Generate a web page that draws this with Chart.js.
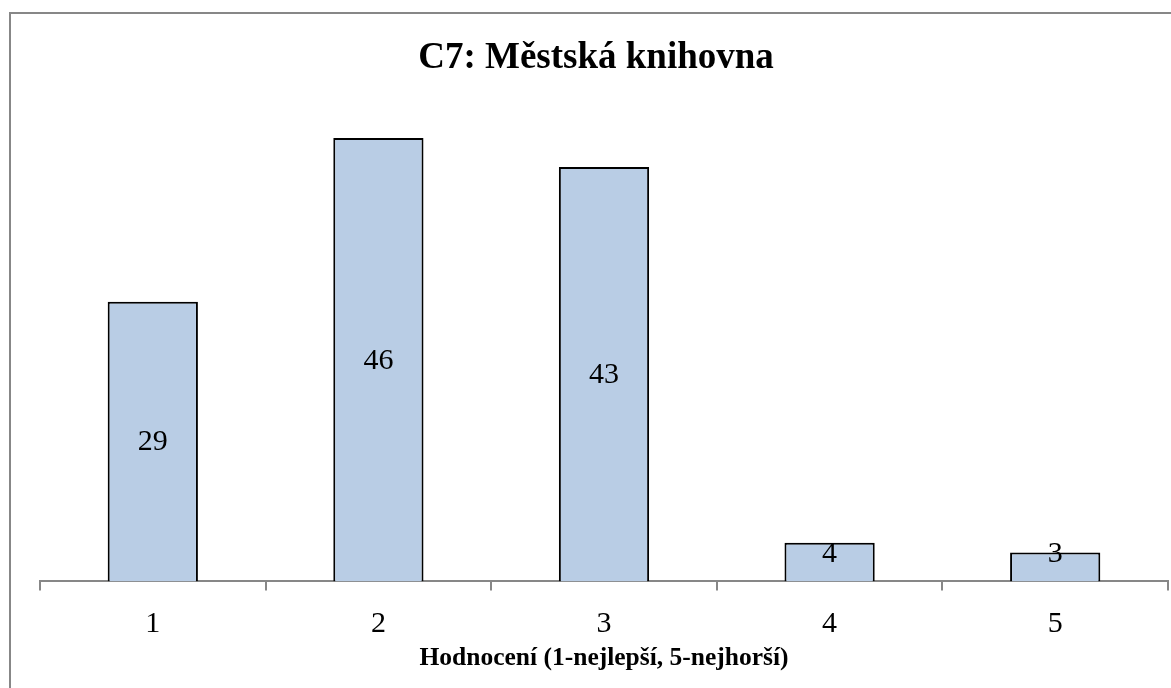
<!DOCTYPE html>
<html lang="cs">
<head>
    <meta charset="UTF-8">
    <title>C7: Městská knihovna</title>
    <script src="https://cdn.jsdelivr.net/npm/chart.js"></script>
    <style>
        body {
            margin: 0;
            background: #ffffff;
        }
        #wrap {
            position: relative;
            width: 1171px;
            height: 688px;
            overflow: hidden;
        }
        #frame {
            position: absolute;
            left: 9px;
            top: 12px;
            width: 1200px;
            height: 720px;
            border-left: 2px solid #878787;
            border-top: 2px solid #878787;
        }
        #ratingChart {
            position: absolute;
            left: 0;
            top: 0;
        }
    </style>
</head>
<body>
    <div id="wrap">
        <div id="frame"></div>
        <canvas id="ratingChart" width="1171" height="688"></canvas>
    </div>
    <script>
        const categories = ['1', '2', '3', '4', '5'];
        const counts = [29, 46, 43, 4, 3];
        const chartTitle = 'C7: Městská knihovna';
        const axisTitle = 'Hodnocení (1-nejlepší, 5-nejhorší)';

        // popisky hodnot uprostřed sloupců (u nízkých sloupců nad osou)
        const valueLabels = {
            id: 'valueLabels',
            afterDatasetsDraw(chart) {
                const ctx = chart.ctx;
                const meta = chart.getDatasetMeta(0);
                ctx.save();
                ctx.font = '30px "Liberation Serif"';
                ctx.fillStyle = '#000000';
                ctx.textAlign = 'center';
                ctx.textBaseline = 'middle';
                meta.data.forEach((bar, i) => {
                    const mid = (bar.y + bar.base) / 2;
                    const cy = Math.min(mid + 1, bar.base - 27);
                    ctx.fillText(String(chart.data.datasets[0].data[i]), bar.x, cy);
                });
                ctx.restore();
            }
        };

        const ctx = document.getElementById('ratingChart').getContext('2d');
        new Chart(ctx, {
            type: 'bar',
            data: {
                labels: categories,
                datasets: [{
                    data: counts,
                    backgroundColor: '#B9CDE5',
                    borderColor: '#000000',
                    borderWidth: 2,
                    barPercentage: 0.4,
                    categoryPercentage: 1.0
                }]
            },
            options: {
                responsive: false,
                animation: false,
                layout: {
                    padding: { left: 24, right: 3, top: 0, bottom: 0 }
                },
                plugins: {
                    legend: { display: false },
                    tooltip: { enabled: false },
                    title: {
                        display: true,
                        text: chartTitle,
                        color: '#000000',
                        font: { family: 'Liberation Serif', size: 37, weight: 'bold' },
                        padding: { top: 36, bottom: 19 }
                    }
                },
                scales: {
                    y: {
                        display: true,
                        min: 0,
                        max: 50,
                        grid: { display: false },
                        border: { display: false },
                        ticks: { display: false },
                        // prázdný pruh vlevo od grafu
                        afterFit(scale) {
                            scale.width = 16;
                        }
                    },
                    x: {
                        border: { display: true, color: '#878787', width: 2 },
                        grid: {
                            offset: true,
                            drawOnChartArea: false,
                            drawTicks: true,
                            tickLength: 9,
                            color: '#878787',
                            lineWidth: 2
                        },
                        ticks: {
                            color: '#000000',
                            padding: 16,
                            font: { family: 'Liberation Serif', size: 30 }
                        },
                        title: {
                            display: true,
                            text: axisTitle,
                            color: '#000000',
                            font: { family: 'Liberation Serif', size: 25.5, weight: 'bold' },
                            padding: { top: -15, bottom: 14 }
                        }
                    }
                }
            },
            plugins: [valueLabels]
        });
    </script>
</body>
</html>
